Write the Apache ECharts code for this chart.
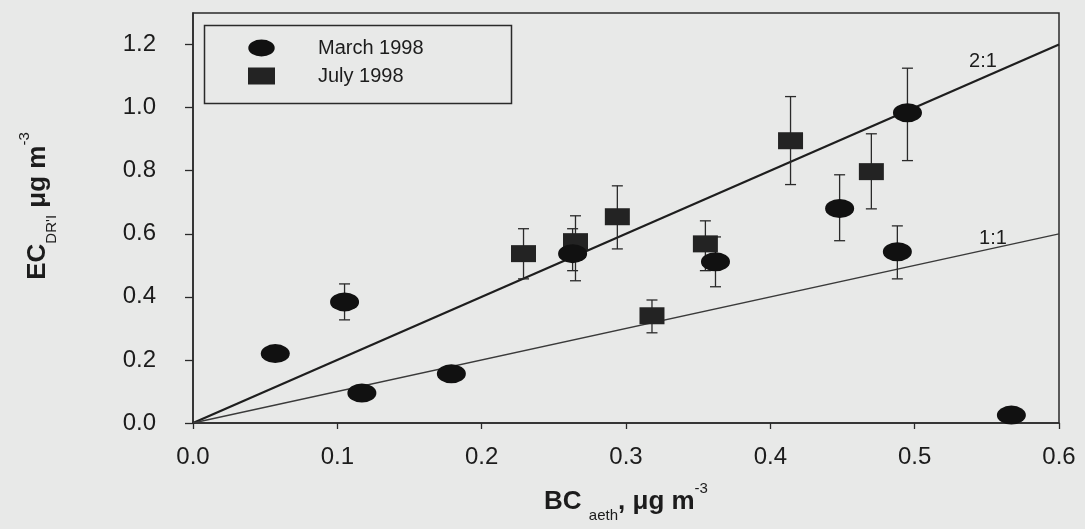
<!DOCTYPE html>
<html><head><meta charset="utf-8">
<script src="https://cdn.jsdelivr.net/npm/echarts@6/dist/echarts.min.js"></script>
<style>html,body{margin:0;padding:0;background:#e8e9e8;}#c{width:1085px;height:529px;}</style>
</head><body><div id="c"></div>
<script>
// ---- data ----
const marchX  = [0.057, 0.105, 0.117, 0.179, 0.263, 0.362, 0.448, 0.488, 0.495, 0.567];
const marchY  = [0.220, 0.384, 0.095, 0.156, 0.537, 0.511, 0.680, 0.543, 0.984, 0.025];
const marchLo = [null,  0.327, null,  null,  0.483, 0.432, 0.578, 0.457, 0.832, null];
const marchHi = [null,  0.441, null,  null,  0.616, 0.590, 0.787, 0.625, 1.125, null];
const julyX  = [0.229, 0.265, 0.294, 0.318, 0.355, 0.414, 0.470];
const julyY  = [0.537, 0.575, 0.654, 0.340, 0.568, 0.895, 0.797];
const julyLo = [0.457, 0.451, 0.552, 0.286, 0.483, 0.756, 0.679];
const julyHi = [0.616, 0.657, 0.752, 0.390, 0.641, 1.035, 0.917];
const ratioX   = [0, 0.6];
const ratio21Y = [0, 1.2];
const ratio11Y = [0, 0.6];
const xTicks = [0, 0.1, 0.2, 0.3, 0.4, 0.5, 0.6];
const yTicks = [0, 0.2, 0.4, 0.6, 0.8, 1.0, 1.2];
const seriesNames = ['March 1998', 'July 1998'];

const FONT = '"Liberation Sans", Arial, sans-serif';
const INK = '#1c1c1c';
const ELLIPSE = 'path://M0,9A14,9 0 1,1 28,9A14,9 0 1,1 0,9Z';

function pairs(xs, ys) { return xs.map((x, i) => [x, ys[i]]); }
function errData(xs, lo, hi) {
  return xs.map((x, i) => [x, lo[i], hi[i]]).filter(d => d[1] != null);
}
function errRender(params, api) {
  const x = api.value(0), lo = api.value(1), hi = api.value(2);
  const t = api.coord([x, hi]), b = api.coord([x, lo]);
  const hw = 5.5;
  const st = { stroke: '#2a2a2a', lineWidth: 1.3 };
  return { type: 'group', children: [
    { type: 'line', shape: { x1: t[0], y1: t[1], x2: b[0], y2: b[1] }, style: st },
    { type: 'line', shape: { x1: t[0] - hw, y1: t[1], x2: t[0] + hw, y2: t[1] }, style: st },
    { type: 'line', shape: { x1: b[0] - hw, y1: b[1], x2: b[0] + hw, y2: b[1] }, style: st }
  ]};
}
const titleRich = {
  m: { fontSize: 26, fontFamily: FONT, color: INK, fontWeight: 'bold', lineHeight: 42, verticalAlign: 'middle' },
  s: { fontSize: 15, fontFamily: FONT, color: INK, lineHeight: 15, verticalAlign: 'bottom' },
  p: { fontSize: 15, fontFamily: FONT, color: INK, lineHeight: 15, verticalAlign: 'top' }
};

const chart = echarts.init(document.getElementById('c'), null, { renderer: 'canvas' });
chart.setOption({
  animation: false,
  backgroundColor: '#e8e9e8',
  textStyle: { fontFamily: FONT, color: INK },
  grid: { left: 193, right: 26, top: 13, bottom: 106, show: true, borderColor: '#2a2a2a', borderWidth: 1.5, containLabel: false },
  legend: {
    orient: 'vertical', left: 243, top: 33, itemWidth: 27, itemHeight: 17, itemGap: 8,
    textStyle: { fontFamily: FONT, fontSize: 20, color: INK, padding: [0, 0, 0, 38] },
    data: [
      { name: seriesNames[0], icon: ELLIPSE },
      { name: seriesNames[1], icon: 'rect' }
    ]
  },
  graphic: [{
    type: 'rect', left: 202, top: 23, shape: { width: 307, height: 78 },
    style: { fill: 'none', stroke: '#2a2a2a', lineWidth: 1.5 }, z: 10
  }],
  xAxis: {
    type: 'value', min: 0, max: 0.6, interval: 0.1,
    axisLine: { show: true, onZero: false, lineStyle: { color: '#2a2a2a', width: 1.5 } },
    axisTick: { show: true, length: 6, lineStyle: { color: '#2a2a2a', width: 1.3 }, customValues: xTicks },
    axisLabel: { fontSize: 24, color: INK, fontFamily: FONT, margin: 22, customValues: xTicks, formatter: v => v.toFixed(1) },
    splitLine: { show: false },
    name: '{m|BC }{s|aeth}{m|, μg m}{p|-3}',
    nameLocation: 'middle', nameGap: 58,
    nameTextStyle: { rich: titleRich }
  },
  yAxis: {
    type: 'value', min: 0, max: 1.3,
    axisLine: { show: true, onZero: false, lineStyle: { color: '#2a2a2a', width: 1.5 } },
    axisTick: { show: true, length: 8, lineStyle: { color: '#2a2a2a', width: 1.3 }, customValues: yTicks },
    axisLabel: { fontSize: 24, color: INK, fontFamily: FONT, margin: 37, customValues: yTicks, formatter: v => v.toFixed(1) },
    splitLine: { show: false },
    name: '{m|EC}{s|DR\'I}{m| μg m}{p|-3}',
    nameLocation: 'middle', nameGap: 134, nameRotate: 90,
    nameTextStyle: { rich: titleRich, padding: [0, 0, 0, 24] }
  },
  series: [
    {
      name: '2:1', type: 'line', data: pairs(ratioX, ratio21Y), symbol: 'none', silent: true,
      lineStyle: { color: '#1e1e1e', width: 2.2 }, z: 1,
      endLabel: { show: true, formatter: '2:1', fontSize: 20, fontFamily: FONT, color: INK, align: 'center', offset: [-84, 17] }
    },
    {
      name: '1:1', type: 'line', data: pairs(ratioX, ratio11Y), symbol: 'none', silent: true,
      lineStyle: { color: '#3a3a3a', width: 1.3 }, z: 1,
      endLabel: { show: true, formatter: '1:1', fontSize: 20, fontFamily: FONT, color: INK, align: 'center', offset: [-74, 5] }
    },
    { name: 'errMarch', type: 'custom', renderItem: errRender, data: errData(marchX, marchLo, marchHi), encode: { x: 0, y: [1, 2] }, z: 2 },
    { name: 'errJuly', type: 'custom', renderItem: errRender, data: errData(julyX, julyLo, julyHi), encode: { x: 0, y: [1, 2] }, z: 2 },
    {
      name: seriesNames[1], type: 'scatter', data: pairs(julyX, julyY), symbol: 'rect', symbolSize: [25, 17],
      itemStyle: { color: '#232323', opacity: 1 }, z: 3
    },
    {
      name: seriesNames[0], type: 'scatter', data: pairs(marchX, marchY), symbol: ELLIPSE, symbolSize: [29, 19],
      itemStyle: { color: '#111111', opacity: 1 }, z: 4
    }
  ]
});
</script></body></html>
